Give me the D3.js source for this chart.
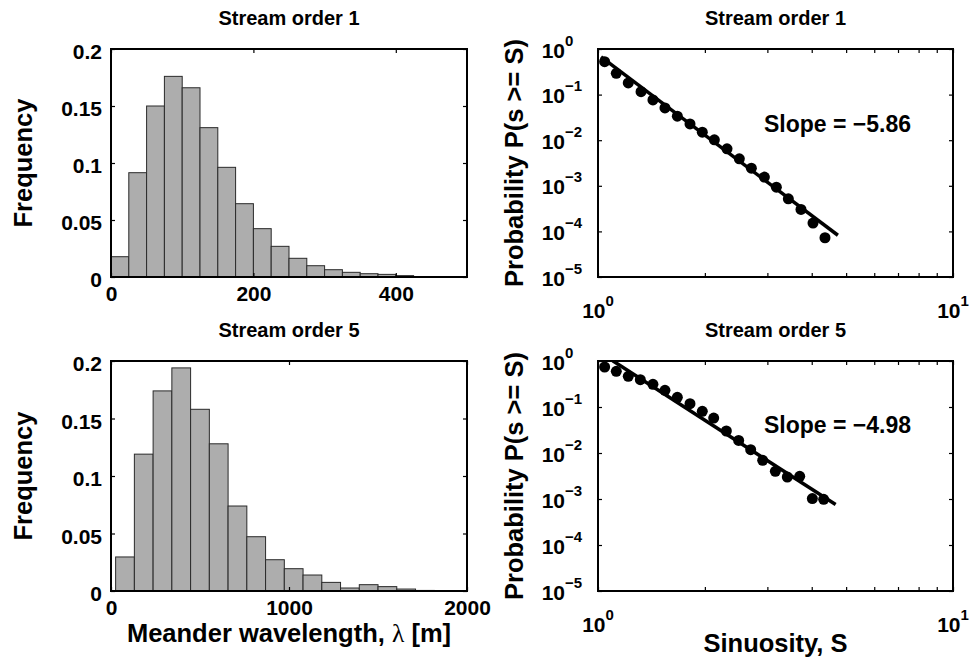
<!DOCTYPE html>
<html>
<head>
<meta charset="utf-8">
<script src="https://cdn.jsdelivr.net/npm/d3@7"></script>
<style>
  html, body { margin: 0; padding: 0; background: #fff; }
  svg text { font-family: "Liberation Sans", Arial, Helvetica, sans-serif; font-weight: bold; fill: #000; }
</style>
</head>
<body>
<svg id="fig" width="974" height="659"></svg>
<script>
// Meander wavelength histograms: relative frequency per bin
const order1BinStart = 0;
const order1BinWidth = 25;
const order1Freq = [0.0178, 0.0915, 0.150, 0.176, 0.166, 0.131, 0.0962, 0.0643, 0.0424, 0.0269,
                    0.0164, 0.0099, 0.0064, 0.0041, 0.0029, 0.0023, 0.0012, 0.0004, 0.0002, 0.0001];
const order5BinStart = 26;
const order5BinWidth = 105.3;
const order5Freq = [0.0296, 0.119, 0.174, 0.194, 0.158, 0.128, 0.0739, 0.0472, 0.0272, 0.0194,
                    0.0139, 0.0075, 0.0026, 0.0055, 0.0038, 0.0017, 0.0005, 0.0002, 0.0002];

// Sinuosity exceedance probabilities P(s >= S)
const order1Sinuosity = [1.044, 1.126, 1.217, 1.322, 1.428, 1.544, 1.673, 1.816, 1.967, 2.127,
                         2.309, 2.501, 2.704, 2.942, 3.180, 3.437, 3.731, 4.033, 4.359];
const order1Prob = [0.528, 0.293, 0.180, 0.116, 0.0764, 0.0510, 0.0336, 0.0228, 0.0150, 0.0102,
                    0.00646, 0.00390, 0.00244, 0.00155, 0.000935, 0.000519, 0.000303, 0.000152, 0.0000726];
const order5Sinuosity = [1.044, 1.126, 1.217, 1.316, 1.428, 1.544, 1.673, 1.816, 1.967, 2.118,
                         2.299, 2.490, 2.692, 2.910, 3.159, 3.414, 3.700, 4.016, 4.322];
const order5Prob = [0.741, 0.596, 0.464, 0.393, 0.311, 0.230, 0.162, 0.118, 0.0805, 0.0576,
                    0.0301, 0.0188, 0.0118, 0.00693, 0.00399, 0.00301, 0.00311, 0.00102, 0.000984];

// Power-law fits: log10 P = intercept + slope * log10 S
const order1Slope = -5.86, order1Intercept = -0.124, order1FitRange = [1.02, 4.74];
const order5Slope = -4.98, order5Intercept = 0.212, order5FitRange = [1.10, 4.67];

// Axis ticks and labels
const freqTicks = [0, 0.05, 0.1, 0.15, 0.2];
const freqTickLabels = ["0", "0.05", "0.1", "0.15", "0.2"];
const order1WaveTicks = [0, 200, 400];
const order5WaveTicks = [0, 1000, 2000];
const probTicks = [1, 1e-1, 1e-2, 1e-3, 1e-4, 1e-5];
const probExponents = ["0", "\u22121", "\u22122", "\u22123", "\u22124", "\u22125"];
const sinTicks = [1, 10];
const sinExponents = ["0", "1"];
const sinMinorTicks = [1, 2, 3, 4, 5, 6, 7, 8, 9, 10];
const panelTitles = ["Stream order 1", "Stream order 5"];

const FS = { tick: "21px", exp: "15px", title: "20px", axis: "25.5px", slope: "23px" };

const svg = d3.select("#fig");

const histCols = { x0: 111, x1: 467 };
const logCols = { x0: 598, x1: 953 };
const rows = [{ y0: 49, y1: 277 }, { y0: 361, y1: 591 }];
const tickLen = 4;

function stripAxis(g) {
  g.attr("font-size", null).attr("font-family", null);
  g.select(".domain").remove();
  g.selectAll(".tick line").attr("stroke", "#000").attr("stroke-width", 1.2);
}

function frame(g, x0, x1, y0, y1) {
  g.append("rect")
    .attr("x", x0).attr("y", y0)
    .attr("width", x1 - x0).attr("height", y1 - y0)
    .attr("fill", "none").attr("stroke", "#000").attr("stroke-width", 2);
}

function drawHistogram(rowIdx, freq, binStart, binWidth, xMax, xTicks, xLabel) {
  const r = rows[rowIdx];
  const { x0, x1 } = histCols;
  const x = d3.scaleLinear().domain([0, xMax]).range([x0, x1]);
  const y = d3.scaleLinear().domain([0, 0.2]).range([r.y1, r.y0]);
  const g = svg.append("g");
  const clipId = "hclip" + rowIdx;
  svg.append("clipPath").attr("id", clipId)
    .append("rect").attr("x", x0).attr("y", r.y0).attr("width", x1 - x0).attr("height", r.y1 - r.y0);

  g.append("g").attr("clip-path", `url(#${clipId})`)
    .selectAll("rect").data(freq).join("rect")
    .attr("x", (d, i) => x(binStart + i * binWidth))
    .attr("width", x(binStart + binWidth) - x(binStart))
    .attr("y", d => y(d))
    .attr("height", d => y(0) - y(d))
    .attr("fill", "#adadad")
    .attr("stroke", "#2a2a2a")
    .attr("stroke-width", 1);

  // inward ticks on all four sides
  const left = g.append("g").attr("transform", `translate(${x0},0)`)
    .call(d3.axisLeft(y).tickValues(freqTicks).tickSize(-tickLen).tickPadding(9)
      .tickFormat((d, i) => freqTickLabels[i]));
  stripAxis(left);
  left.selectAll("text").style("font-size", FS.tick).attr("dy", "0.46em");

  const right = g.append("g").attr("transform", `translate(${x1},0)`)
    .call(d3.axisRight(y).tickValues(freqTicks).tickSize(-tickLen).tickFormat(""));
  stripAxis(right);

  const bottom = g.append("g").attr("transform", `translate(0,${r.y1})`)
    .call(d3.axisBottom(x).tickValues(xTicks).tickSize(-tickLen).tickPadding(9)
      .tickFormat(d3.format("d")));
  stripAxis(bottom);
  bottom.selectAll("text").style("font-size", FS.tick);

  const top = g.append("g").attr("transform", `translate(0,${r.y0})`)
    .call(d3.axisTop(x).tickValues(xTicks).tickSize(-tickLen).tickFormat(""));
  stripAxis(top);

  frame(g, x0, x1, r.y0, r.y1);

  const cy = (r.y0 + r.y1) / 2;
  g.append("text").style("font-size", FS.axis)
    .attr("transform", `translate(32,${cy}) rotate(-90)`)
    .attr("text-anchor", "middle").text("Frequency");

  g.append("text").style("font-size", FS.title)
    .attr("x", (x0 + x1) / 2).attr("y", r.y0 - 24)
    .attr("text-anchor", "middle").text(panelTitles[rowIdx]);

  if (xLabel) {
    const t = g.append("text").style("font-size", FS.axis)
      .attr("x", (x0 + x1) / 2).attr("y", r.y1 + 51)
      .attr("text-anchor", "middle");
    t.append("tspan").text("Meander wavelength, ");
    t.append("tspan").style("font-family", "'Liberation Serif', 'DejaVu Serif', serif")
      .style("font-weight", "normal").text("\u03bb");
    t.append("tspan").text(" [m]");
  }
}

function drawExceedance(rowIdx, sVals, pVals, slope, intercept, fitRange, xLabel) {
  const r = rows[rowIdx];
  const { x0, x1 } = logCols;
  const x = d3.scaleLog().domain([1, 10]).range([x0, x1]);
  const y = d3.scaleLog().domain([1e-5, 1]).range([r.y1, r.y0]);
  const g = svg.append("g");
  const clipId = "lclip" + rowIdx;
  svg.append("clipPath").attr("id", clipId)
    .append("rect").attr("x", x0).attr("y", r.y0).attr("width", x1 - x0).attr("height", r.y1 - r.y0);

  // fitted power law
  const fitPts = fitRange.map(s => [s, Math.pow(10, intercept + slope * Math.log10(s))]);
  g.append("path")
    .attr("clip-path", `url(#${clipId})`)
    .attr("d", d3.line().x(d => x(d[0])).y(d => y(d[1]))(fitPts))
    .attr("fill", "none").attr("stroke", "#000").attr("stroke-width", 3.5);

  g.append("g").selectAll("circle").data(sVals).join("circle")
    .attr("cx", d => x(d))
    .attr("cy", (d, i) => y(pVals[i]))
    .attr("r", 5.5)
    .attr("fill", "#000");

  const left = g.append("g").attr("transform", `translate(${x0},0)`)
    .call(d3.axisLeft(y).tickValues(probTicks).tickSize(-tickLen).tickFormat(""));
  stripAxis(left);
  const right = g.append("g").attr("transform", `translate(${x1},0)`)
    .call(d3.axisRight(y).tickValues(probTicks).tickSize(-tickLen).tickFormat(""));
  stripAxis(right);
  const bottom = g.append("g").attr("transform", `translate(0,${r.y1})`)
    .call(d3.axisBottom(x).tickValues(sinMinorTicks).tickSize(-tickLen).tickFormat(""));
  stripAxis(bottom);
  const top = g.append("g").attr("transform", `translate(0,${r.y0})`)
    .call(d3.axisTop(x).tickValues(sinMinorTicks).tickSize(-tickLen).tickFormat(""));
  stripAxis(top);

  // y tick labels: 10 with superscript exponent
  probTicks.forEach((p, i) => {
    const ty = y(p);
    g.append("text").style("font-size", FS.tick)
      .attr("x", x0 - 33).attr("y", ty + 8.5).attr("text-anchor", "end").text("10");
    g.append("text").style("font-size", FS.exp)
      .attr("x", x0 - 33).attr("y", ty - 3.5).attr("text-anchor", "start").text(probExponents[i]);
  });

  // x tick labels
  sinTicks.forEach((s, i) => {
    const t = g.append("text").style("font-size", FS.tick)
      .attr("x", x(s)).attr("y", r.y1 + 41).attr("text-anchor", "middle");
    t.append("tspan").text("10");
    t.append("tspan").style("font-size", FS.exp).attr("dy", -12).text(sinExponents[i]);
  });

  frame(g, x0, x1, r.y0, r.y1);

  const cy = (r.y0 + r.y1) / 2;
  g.append("text").style("font-size", FS.axis)
    .attr("transform", `translate(523,${cy}) rotate(-90)`)
    .attr("text-anchor", "middle").text("Probability P(s >= S)");

  g.append("text").style("font-size", FS.title)
    .attr("x", (x0 + x1) / 2).attr("y", r.y0 - 24)
    .attr("text-anchor", "middle").text(panelTitles[rowIdx]);

  g.append("text").style("font-size", FS.slope)
    .attr("x", x0 + 166).attr("y", r.y0 + (rowIdx === 0 ? 83 : 72))
    .text("Slope = " + d3.format(".2f")(slope).replace("-", "\u2212"));

  if (xLabel) {
    g.append("text").style("font-size", FS.axis)
      .attr("x", (x0 + x1) / 2).attr("y", r.y1 + 61)
      .attr("text-anchor", "middle").text("Sinuosity, S");
  }
}

drawHistogram(0, order1Freq, order1BinStart, order1BinWidth, 500, order1WaveTicks, false);
drawHistogram(1, order5Freq, order5BinStart, order5BinWidth, 2000, order5WaveTicks, true);
drawExceedance(0, order1Sinuosity, order1Prob, order1Slope, order1Intercept, order1FitRange, false);
drawExceedance(1, order5Sinuosity, order5Prob, order5Slope, order5Intercept, order5FitRange, true);
</script>
</body>
</html>
